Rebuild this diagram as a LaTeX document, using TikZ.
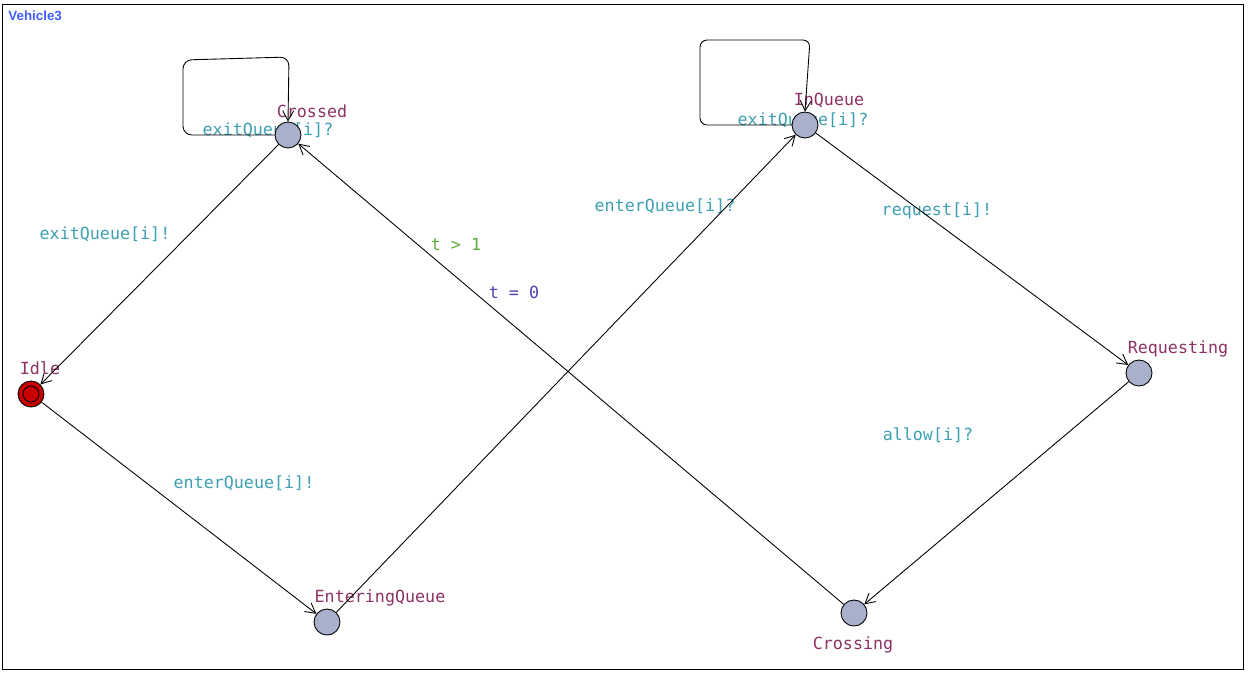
\documentclass[tikz,border=0pt]{standalone}
\usepackage{fontspec}
\newfontfamily\uppfont{DejaVu Sans Mono}
\newfontfamily\titlefont{Liberation Sans}
\usetikzlibrary{arrows.meta}
\definecolor{locname}{RGB}{140,50,100}
\definecolor{synccol}{RGB}{60,160,176}
\definecolor{guardcol}{RGB}{90,170,60}
\definecolor{assigncol}{RGB}{80,60,180}
\definecolor{locfill}{RGB}{168,176,204}
\definecolor{initfill}{RGB}{200,0,0}
\definecolor{titlecol}{RGB}{64,96,255}

\begin{document}
\begin{tikzpicture}[x=0.02cm, y=-0.02cm, line width=0.5pt,
    >={Straight Barb[length=2mm,width=2.2mm]}]
    \tikzstyle{loc}=[
        circle,
        draw = black,
        fill = locfill,
        minimum size = 5.2mm,
        inner sep = 0pt
    ]
    \tikzstyle{txt}=[inner sep=0pt, font=\uppfont\fontsize{9.5}{11}\selectfont]
    \useasboundingbox (0,0) rectangle (1248,674);
    \draw (2,4) rectangle (1243,669);
    \node (title) [anchor=west, inner sep=0pt, text=titlecol,
        font=\titlefont\bfseries\fontsize{7.6}{9}\selectfont] at (8,16) {Vehicle3};
    % location names
    \begin{scope}[every node/.style={txt, text=locname}]
      \node (nIdle) at (40,368) {Idle};
      \node (nCrossed) at (312,111) {Crossed};
      \node (nEntering) at (380,598) {EnteringQueue};
      \node (nInQueue) at (829,100) {InQueue};
      \node (nRequesting) at (1178,349) {Requesting};
      \node (nCrossing) at (853,645) {Crossing};
    \end{scope}
    % edge labels
    \begin{scope}[every node/.style={txt, text=synccol}]
      \node (sExitC) at (268,130) {exitQueue[i]?};
      \node (sExitQ) at (803,120) {exitQueue[i]?};
      \node (sExitI) at (105,234) {exitQueue[i]!};
      \node (sEnterI) at (244,483) {enterQueue[i]!};
      \node (sEnterQ) at (665,206) {enterQueue[i]?};
      \node (sRequest) at (937,211) {request[i]!};
      \node (sAllow) at (928,435) {allow[i]?};
    \end{scope}
    \node (gCross) [txt, text=guardcol] at (456,244) {t > 1};
    \node (aCross) [txt, text=assigncol] at (514,292) {t = 0};
    % locations
    \node (idle) [loc, fill=initfill] at (31,394) {};
    \node (idlein) [circle, draw=black, minimum size=3.2mm, inner sep=0pt] at (idle) {};
    \node (crossed) [loc] at (288,135) {};
    \node (entering) [loc] at (327,622) {};
    \node (inqueue) [loc] at (805,125) {};
    \node (requesting) [loc] at (1139,373) {};
    \node (crossing) [loc] at (854,613) {};
    % edges
    \path[->] (crossed) edge (idle)
              (idle) edge (entering)
              (entering) edge (inqueue)
              (inqueue) edge (requesting)
              (requesting) edge (crossing)
              (crossing) edge (crossed);
    \draw[->, rounded corners=5] (crossed.west) -- (183,135) -- (183,60)
        -- (289,57) -- (crossed.north);
    \draw[->, rounded corners=4] (inqueue.west) -- (700,125) -- (700,40)
        -- (810,40) -- (inqueue.north);
\end{tikzpicture}
\end{document}
